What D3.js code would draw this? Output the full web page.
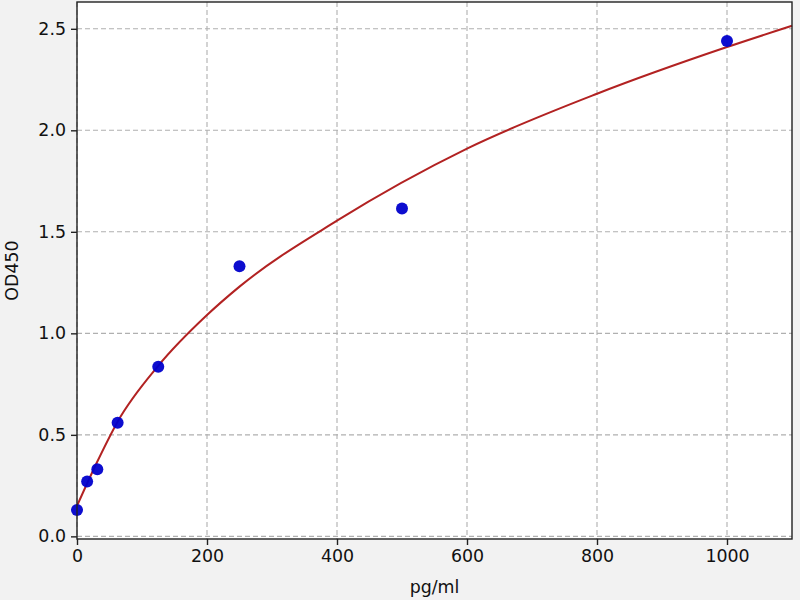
<!DOCTYPE html>
<html>
<head>
<meta charset="utf-8">
<script src="https://cdn.jsdelivr.net/npm/d3@7"></script>
<style>
  html, body { margin: 0; padding: 0; background: #f2f2f2; }
  svg { display: block; }
  text { font-family: "DejaVu Sans", sans-serif; fill: #111; }
</style>
</head>
<body>
<svg id="chart" width="800" height="600"></svg>
<script>
// Standard points (concentration pg/ml, OD450)
const concentrations = [0, 15.6, 31.25, 62.5, 125, 250, 500, 1000];
const odValues = [0.13, 0.27, 0.33, 0.56, 0.835, 1.33, 1.615, 2.44];

// Fitted curve
const fitX = [0, 30, 62.5, 125, 200, 250, 400, 600, 800, 1000, 1100];
const fitY = [0.15, 0.36, 0.565, 0.84, 1.09, 1.23, 1.555, 1.91, 2.18, 2.41, 2.515];

// Tick values
const xTicks = [0, 200, 400, 600, 800, 1000];
const yTicks = [0.0, 0.5, 1.0, 1.5, 2.0, 2.5];

const xLabel = "pg/ml";
const yLabel = "OD450";

const pLeft = 77, pRight = 792, pTop = 2, pBottom = 539;

const svg = d3.select("#chart");
svg.append("rect").attr("width", 800).attr("height", 600).attr("fill", "#f2f2f2");

const x = d3.scaleLinear().domain([0, 1100]).range([pLeft, pRight]);
const y = d3.scaleLinear().domain([-0.013, 2.632]).range([pBottom, pTop]);

// plot background
svg.append("rect")
  .attr("x", pLeft).attr("y", pTop)
  .attr("width", pRight - pLeft).attr("height", pBottom - pTop)
  .attr("fill", "#ffffff");

// grid
const grid = svg.append("g");
grid.selectAll("line.vx").data(xTicks).join("line")
  .attr("x1", d => x(d)).attr("x2", d => x(d))
  .attr("y1", pTop).attr("y2", pBottom)
  .attr("stroke", "#b0b0b0").attr("stroke-width", 1.1)
  .attr("stroke-dasharray", "5,3");
grid.selectAll("line.hy").data(yTicks).join("line")
  .attr("y1", d => y(d)).attr("y2", d => y(d))
  .attr("x1", pLeft).attr("x2", pRight)
  .attr("stroke", "#b0b0b0").attr("stroke-width", 1.1)
  .attr("stroke-dasharray", "5,3");

// fitted curve
const line = d3.line()
  .x((d, i) => x(fitX[i]))
  .y(d => y(d))
  .curve(d3.curveMonotoneX);
svg.append("path")
  .attr("d", line(fitY))
  .attr("fill", "none")
  .attr("stroke", "#b22222")
  .attr("stroke-width", 2);

// points
svg.append("g").selectAll("circle").data(concentrations).join("circle")
  .attr("cx", d => x(d))
  .attr("cy", (d, i) => y(odValues[i]))
  .attr("r", 6)
  .attr("fill", "#0000cc")
  .attr("fill-opacity", 0.95);

// frame
svg.append("rect")
  .attr("x", pLeft).attr("y", pTop)
  .attr("width", pRight - pLeft).attr("height", pBottom - pTop)
  .attr("fill", "none").attr("stroke", "#222").attr("stroke-width", 1.4);

// axes
const xAxis = d3.axisBottom(x).tickValues(xTicks).tickFormat(d3.format("d")).tickSize(6).tickPadding(5);
const yAxis = d3.axisLeft(y).tickValues(yTicks).tickFormat(d3.format(".1f")).tickSize(6).tickPadding(5);

const gx = svg.append("g").attr("transform", `translate(0,${pBottom})`).call(xAxis);
const gy = svg.append("g").attr("transform", `translate(${pLeft},0)`).call(yAxis);
[gx, gy].forEach(g => {
  g.select(".domain").remove();
  g.selectAll(".tick line").attr("stroke", "#222").attr("stroke-width", 1.4);
  g.selectAll(".tick text").attr("font-size", 17.4).attr("font-family", "DejaVu Sans").attr("fill", "#111");
});

svg.append("text")
  .attr("x", (pLeft + pRight) / 2).attr("y", 593)
  .attr("text-anchor", "middle")
  .attr("font-size", 17.4)
  .text(xLabel);

svg.append("text")
  .attr("transform", `translate(18,${(pTop + pBottom) / 2}) rotate(-90)`)
  .attr("text-anchor", "middle")
  .attr("font-size", 17.4)
  .text(yLabel);
</script>
</body>
</html>
